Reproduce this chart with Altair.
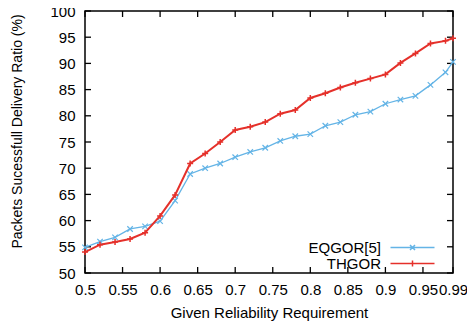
import altair as alt
import pandas as pd

x_vals = [0.5, 0.52, 0.54, 0.56, 0.58, 0.6, 0.62, 0.64, 0.66, 0.68, 0.7, 0.72, 0.74,
          0.76, 0.78, 0.8, 0.82, 0.84, 0.86, 0.88, 0.9, 0.92, 0.94, 0.96, 0.98, 0.99]
eqgor = [54.9, 56.0, 56.8, 58.4, 58.9, 59.9, 63.8, 68.9, 70.0, 70.9, 72.1, 73.1, 73.9,
         75.2, 76.1, 76.5, 78.1, 78.8, 80.2, 80.8, 82.3, 83.1, 83.8, 85.9, 88.3, 90.3]
thgor = [54.0, 55.4, 55.9, 56.5, 57.7, 60.9, 64.9, 70.9, 72.8, 75.0, 77.3, 77.9, 78.8,
         80.4, 81.1, 83.4, 84.3, 85.4, 86.3, 87.1, 87.9, 90.1, 91.9, 93.8, 94.3, 94.8]
series_names = ["EQGOR[5]", "THGOR"]
series_colors = ["#64b4e6", "#e5302a"]
x_ticks = [0.5, 0.55, 0.6, 0.65, 0.7, 0.75, 0.8, 0.85, 0.9, 0.95, 0.99]
y_ticks = [50, 55, 60, 65, 70, 75, 80, 85, 90, 95, 100]

rows = []
for name, vals in zip(series_names, [eqgor, thgor]):
    for xv, yv in zip(x_vals, vals):
        rows.append({"x": xv, "y": yv, "series": name})
df = pd.DataFrame(rows)
xt_df = pd.DataFrame({"t": x_ticks})
yt_df = pd.DataFrame({"t": y_ticks})

W, H = 368, 262
TICK = 6
FONT = "Liberation Sans"
xscale = alt.Scale(domain=[0.5, 0.99], nice=False, zero=False)
yscale = alt.Scale(domain=[50, 100], nice=False, zero=False)

X_PATH = "M-1,-1L1,1M-1,1L1,-1"
P_PATH = "M-1,0L1,0M0,-1L0,1"
legend_paths = ["M-4.4,0L4.4,0M-0.5,-0.5L0.5,0.5M-0.5,0.5L0.5,-0.5",
                "M-4.4,0L4.4,0M0,-0.6L0,0.6"]

main_x = alt.Axis(orient="bottom", values=x_ticks, format=".2~f", ticks=False, domain=False,
                  grid=False, labelPadding=9, labelFontSize=15, labelColor="black",
                  labelOverlap=False, labelFlush=False,
                  title="Given Reliability Requirement", titleFontSize=15,
                  titleFontWeight="normal", titleColor="black", titlePadding=8)
main_y = alt.Axis(orient="left", values=y_ticks, format="d", ticks=False, domain=False,
                  grid=False, labelPadding=10, labelFontSize=15, labelColor="black",
                  labelOverlap=False, labelFlush=False,
                  title="Packets Sucessfull Delivery Ratio (%)", titleFontSize=14,
                  titleFontWeight="normal", titleColor="black", titlePadding=25,
                  titleY=120)

base = alt.Chart(df)
blue = base.transform_filter(alt.datum.series == series_names[0])
red = base.transform_filter(alt.datum.series == series_names[1])

blue_line = blue.mark_line(color=series_colors[0], strokeWidth=1.3).encode(
    x=alt.X("x:Q", scale=xscale, axis=main_x),
    y=alt.Y("y:Q", scale=yscale, axis=main_y),
)
blue_pts = blue.mark_point(shape=X_PATH, size=30, filled=False, color=series_colors[0],
                           strokeWidth=1.2, opacity=1).encode(
    x=alt.X("x:Q", scale=xscale, axis=None),
    y=alt.Y("y:Q", scale=yscale, axis=None),
)
red_line = red.mark_line(color=series_colors[1], strokeWidth=2).encode(
    x=alt.X("x:Q", scale=xscale, axis=None),
    y=alt.Y("y:Q", scale=yscale, axis=None),
)
red_pts = red.mark_point(shape=P_PATH, size=36, filled=False, color=series_colors[1],
                         strokeWidth=1.5, opacity=1).encode(
    x=alt.X("x:Q", scale=xscale, axis=None),
    y=alt.Y("y:Q", scale=yscale, axis=None),
)

# inward (gnuplot style) ticks on all four sides
xt = alt.Chart(xt_df)
yt = alt.Chart(yt_df)
tick_style = dict(color="black", strokeWidth=1.3)
ticks_bottom = xt.mark_rule(**tick_style).encode(
    x=alt.X("t:Q", scale=xscale, axis=None), y=alt.value(H), y2=alt.value(H - TICK))
ticks_top = xt.mark_rule(**tick_style).encode(
    x=alt.X("t:Q", scale=xscale, axis=None), y=alt.value(0), y2=alt.value(TICK))
ticks_left = yt.mark_rule(**tick_style).encode(
    y=alt.Y("t:Q", scale=yscale, axis=None), x=alt.value(0), x2=alt.value(TICK))
ticks_right = yt.mark_rule(**tick_style).encode(
    y=alt.Y("t:Q", scale=yscale, axis=None), x=alt.value(W), x2=alt.value(W - TICK))

leg = alt.Legend(orient="none", legendX=320, legendY=229, padding=0, rowPadding=0,
                 symbolSize=100, symbolStrokeWidth=1.5, symbolOpacity=1,
                 labelOffset={"expr": "-39"}, labelAlign="right", labelFontSize=15,
                 labelColor="black", labelFont=FONT)
legend_layer = base.mark_point(filled=False, opacity=0).encode(
    x=alt.X("x:Q", scale=xscale, axis=None),
    y=alt.Y("y:Q", scale=yscale, axis=None),
    color=alt.Color("series:N", scale=alt.Scale(domain=series_names, range=series_colors),
                    legend=leg, title=None),
    shape=alt.Shape("series:N", scale=alt.Scale(domain=series_names, range=legend_paths),
                    legend=leg, title=None),
)

chart = alt.layer(ticks_bottom, ticks_top, ticks_left, ticks_right,
                  blue_line, blue_pts, red_line, red_pts, legend_layer).resolve_axis(
    x="independent", y="independent"
).properties(
    width=W, height=H,
    autosize=alt.AutoSizeParams(type="none"),
    padding={"left": 77, "top": 3, "right": 14, "bottom": 50},
).configure(font=FONT).configure_view(stroke="black", strokeWidth=1.5)

chart.save("out.html", embed_options={"renderer": "svg", "actions": False})
